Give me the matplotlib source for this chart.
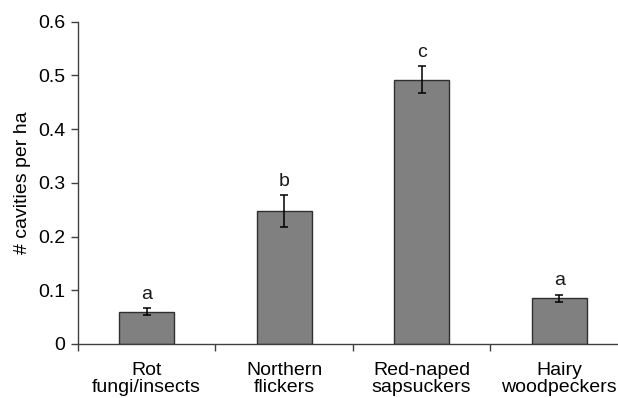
import numpy as np
import matplotlib.pyplot as plt

plt.rcParams['font.family'] = ['Liberation Sans', 'DejaVu Sans']

categories = ['Rot\nfungi/insects', 'Northern\nflickers', 'Red-naped\nsapsuckers', 'Hairy\nwoodpeckers']
means = [0.060, 0.247, 0.492, 0.085]
errors = [0.0065, 0.030, 0.025, 0.0065]
letters = ['a', 'b', 'c', 'a']

fig = plt.figure(figsize=(6.18, 3.98), dpi=100)
# the x axis runs past the right edge of the image in the original
ax = fig.add_axes([0.126, 0.1357, 0.89, 0.8098])

x = np.arange(len(categories))
ax.bar(x, means, width=0.4, color='#808080', edgecolor='#303030', linewidth=1.0,
       yerr=errors, error_kw=dict(ecolor='black', elinewidth=1.1, capsize=3, capthick=1.1))
for xi, m, e, l in zip(x, means, errors, letters):
    ax.text(xi, m + e + 0.01, l, ha='center', va='bottom', fontsize=14, color='#1a1a1a')

ax.set_xlim(-0.5, len(categories) - 0.5)
ax.set_ylim(0, 0.6)
ax.set_yticks(np.arange(0, 0.61, 0.1))
ax.set_yticklabels(['0', '0.1', '0.2', '0.3', '0.4', '0.5', '0.6'])
ax.set_xticks(x)
ax.set_xticklabels(categories, linespacing=1.0)
ax.tick_params(axis='x', which='major', length=0, pad=13, labelsize=14)
ax.set_xticks(np.arange(-0.5, len(categories) - 0.5, 1), minor=True)
ax.tick_params(axis='x', which='minor', length=5, color='#404040', width=1)
ax.tick_params(axis='y', length=5, color='#404040', width=1, labelsize=14, pad=4)
for s in ['top', 'right']:
    ax.spines[s].set_visible(False)
for s in ['left', 'bottom']:
    ax.spines[s].set_color('#404040')
    ax.spines[s].set_linewidth(1.0)
ax.set_ylabel('# cavities per ha', fontsize=14, labelpad=5)

fig.savefig('out.png', dpi=100)
